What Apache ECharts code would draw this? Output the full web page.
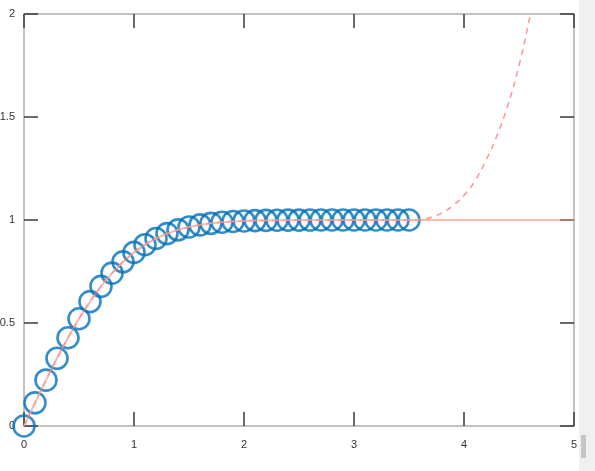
<!DOCTYPE html>
<html>
<head>
<meta charset="utf-8">
<script src="https://cdn.jsdelivr.net/npm/echarts@6/dist/echarts.min.js"></script>
<style>html,body{margin:0;padding:0;background:#fff;}#c{width:595px;height:471px;}</style>
</head>
<body>
<div id="c"></div>
<script>
// sample x positions (circles) and values
const xSamples = [0,0.1,0.2,0.3,0.4,0.5,0.6,0.7,0.8,0.9,1.0,1.1,1.2,1.3,1.4,1.5,1.6,1.7,1.8,1.9,2.0,2.1,2.2,2.3,2.4,2.5,2.6,2.7,2.8,2.9,3.0,3.1,3.2,3.3,3.4,3.5];
const ySamples = [0,0.1125,0.2227,0.3286,0.4284,0.5205,0.6039,0.6778,0.7421,0.7969,0.8427,0.8802,0.9103,0.9340,0.9523,0.9661,0.9763,0.9838,0.9891,0.9928,0.9953,0.9970,0.9981,0.9989,0.9993,0.9996,0.9998,0.9999,0.9999,1,1,1,1,1,1,1];
// solid reference line continues flat to x = 5
const xSolidTail = [3.6,3.8,4.0,4.2,4.4,4.6,4.8,5.0];
const ySolidTail = [1,1,1,1,1,1,1,1];
// dashed approximation diverging after 3.5
const xDashTail = [3.6,3.7,3.8,3.9,4.0,4.1,4.2,4.3,4.4,4.5,4.6,4.65];
const yDashTail = [1.003,1.012,1.035,1.07,1.12,1.19,1.29,1.41,1.56,1.75,1.99,2.12];
const xTicks = [0,1,2,3,4,5];
const yTicks = [0,0.5,1,1.5,2];

const pairs = (xs, ys) => xs.map((x, i) => [x, ys[i]]);
const circleData = pairs(xSamples, ySamples);
const solidData = circleData.concat(pairs(xSolidTail, ySolidTail));
const dashData = circleData.concat(pairs(xDashTail, yDashTail));

const chart = echarts.init(document.getElementById('c'), null, {renderer: 'canvas'});
const tickStyle = {show: true, inside: true, length: 14, lineStyle: {color: '#3a3a3a', width: 1.5}};
const lineStyle = {show: true, onZero: false, lineStyle: {color: '#c2c2c2', width: 2}};
const lbl = {color: '#333', fontSize: 11, fontFamily: 'Liberation Sans, Arial, sans-serif'};
chart.setOption({
  animation: false,
  backgroundColor: '#ffffff',
  grid: {left: 24, right: 21, top: 14, bottom: 45, containLabel: false, outerBoundsMode: 'none'},
  xAxis: [
    {type: 'value', min: 0, max: 5, interval: 1, position: 'bottom',
     axisLine: lineStyle, axisTick: tickStyle, splitLine: {show: false},
     axisLabel: Object.assign({margin: 13}, lbl)},
    {type: 'value', min: 0, max: 5, interval: 1, position: 'top',
     axisLine: lineStyle, axisTick: tickStyle, splitLine: {show: false},
     axisLabel: {show: false}}
  ],
  yAxis: [
    {type: 'value', min: 0, max: 2, interval: 0.5, position: 'left',
     axisLine: lineStyle, axisTick: tickStyle, splitLine: {show: false},
     axisLabel: Object.assign({margin: 9}, lbl)},
    {type: 'value', min: 0, max: 2, interval: 0.5, position: 'right',
     axisLine: lineStyle, axisTick: tickStyle, splitLine: {show: false},
     axisLabel: {show: false}}
  ],
  series: [
    {type: 'scatter', data: circleData, symbol: 'circle', symbolSize: 21,
     itemStyle: {color: 'rgba(0,0,0,0)', borderColor: '#0070BA', borderWidth: 2.6},
     z: 2, silent: true},
    {type: 'line', data: solidData, showSymbol: false, smooth: false,
     lineStyle: {color: 'rgba(240,130,110,0.55)', width: 2}, z: 3, clip: true},
    {type: 'line', data: dashData, showSymbol: false, smooth: true,
     lineStyle: {color: '#ff9494', width: 1.5, type: [6, 5]}, z: 4, clip: true}
  ],
  graphic: [
    {type: 'rect', shape: {x: 579, y: 0, width: 16, height: 471}, style: {fill: '#f0f0f0'}, z: 0},
    {type: 'rect', shape: {x: 581, y: 435, width: 5, height: 23}, style: {fill: '#c6c6c6'}, z: 1}
  ]
});
</script>
</body>
</html>
